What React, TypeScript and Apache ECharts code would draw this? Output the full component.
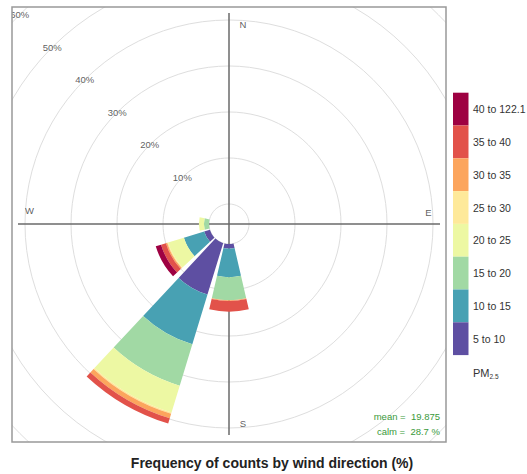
import React, { useEffect, useRef } from 'react';
import * as echarts from 'echarts';

// wind direction sectors (degrees, clockwise from north)
const directions = ['0', '30', '60', '90', '120', '150', '180', '210', '240', '270', '300', '330'];
// PM2.5 bins
const binLabels = ['5 to 10', '10 to 15', '15 to 20', '20 to 25', '25 to 30', '30 to 35', '35 to 40', '40 to 122.1'];
const binColors = ['#5E4FA2', '#48A1B3', '#A1D9A4', '#EDF8A3', '#FEE99A', '#FCA55D', '#E2524A', '#9E0142'];
// frequency (%) per direction for each bin
const pm5to10 = [0, 0, 0, 0, 0, 0, 1.0, 11.7, 1.3, 0, 0, 0];
const pm10to15 = [0, 0, 0, 0, 0, 0, 6.2, 11.3, 4.6, 0, 0, 0];
const pm15to20 = [0, 0, 0, 0, 0, 0, 5.0, 9.4, 0, 1.1, 0, 0];
const pm20to25 = [0, 0, 0, 0, 0, 0, 0, 6.1, 3.6, 1.1, 0, 0];
const pm25to30 = [0, 0, 0, 0, 0, 0, 0, 0.3, 0.2, 0, 0, 0];
const pm30to35 = [0, 0, 0, 0, 0, 0, 0.2, 1.0, 0.3, 0, 0, 0];
const pm35to40 = [0, 0, 0, 0, 0, 0, 2.3, 1.2, 1.1, 0, 0, 0];
const pm40plus = [0, 0, 0, 0, 0, 0, 0, 0, 1.2, 0, 0, 0];
const pctTicks = [10, 20, 30, 40, 50, 60];
const compassLabels = ['N', 'E', 'S', 'W'];
const compassAngles = [0, 90, 180, 270];
const meanText = 'mean =  19.875';
const calmText = 'calm =  28.7 %';
const titleText = 'Frequency of counts by wind direction (%)';

const seriesValues = [pm5to10, pm10to15, pm15to20, pm20to25, pm25to30, pm30to35, pm35to40, pm40plus];

const CX = 229;
const CY = 224;
const INNER = 20;
const OUTER = 296;
const FRAME = { x: 12, y: 7, w: 434, h: 435 };
const FONT = 'Liberation Sans, Arial, sans-serif';

export default function App() {
  const ref = useRef<HTMLDivElement>(null);

  useEffect(() => {
    if (!ref.current) return;
    const chart = echarts.init(ref.current, undefined, { renderer: 'svg' });

    const barSeries = seriesValues.map((vals, i) => ({
      type: 'bar',
      name: binLabels[i],
      coordinateSystem: 'polar',
      polarIndex: 0,
      stack: 'rose',
      data: vals,
      barCategoryGap: '13%',
      itemStyle: { color: binColors[i] },
      z: 3,
    }));

    const compassOffsets: [number, number][] = [[14, 0], [0, -12], [14, 0], [0, -14]];

    const legendX = 453;
    const legendTop = 92.7;
    const boxH = 32.8;
    const legendEls: any[] = [];
    for (let k = 0; k < binLabels.length; k++) {
      const idx = binLabels.length - 1 - k;
      const y = legendTop + k * boxH;
      legendEls.push({
        type: 'rect',
        z: 110,
        shape: { x: legendX, y, width: 15.5, height: boxH },
        style: { fill: binColors[idx] },
      });
      legendEls.push({
        type: 'text',
        z: 110,
        x: legendX + 20,
        y: y + boxH / 2,
        style: {
          text: binLabels[idx],
          fill: '#333',
          font: `10.5px ${FONT}`,
          textVerticalAlign: 'middle',
          verticalAlign: 'middle',
        },
      });
    }
    legendEls.push({
      type: 'text',
      z: 110,
      x: legendX + 20,
      y: 373,
      style: {
        text: '{a|PM}{b|2.5}',
        rich: {
          a: { fontSize: 11, fontFamily: FONT, fill: '#333', color: '#333' },
          b: { fontSize: 6.5, fontFamily: FONT, fill: '#333', color: '#333', padding: [6, 0, 0, 0] },
        },
        verticalAlign: 'middle',
      },
    });

    const option: any = {
      animation: false,
      backgroundColor: '#ffffff',
      polar: [
        { center: [CX, CY], radius: [INNER, OUTER] },
        { center: [CX, CY], radius: [INNER, OUTER] },
      ],
      angleAxis: [
        {
          polarIndex: 0,
          type: 'category',
          data: directions,
          startAngle: 105,
          clockwise: true,
          axisLine: { show: false },
          axisTick: { show: false },
          axisLabel: { show: false },
          splitLine: { show: false },
        },
        {
          polarIndex: 1,
          type: 'value',
          min: 0,
          max: 360,
          startAngle: 90,
          clockwise: true,
          show: false,
        },
      ],
      radiusAxis: [
        {
          polarIndex: 0,
          type: 'value',
          min: 0,
          max: 60,
          interval: 10,
          axisLine: { show: false },
          axisTick: { show: false },
          axisLabel: { show: false },
          splitLine: { show: true, lineStyle: { color: '#dedede', width: 1 } },
          z: 0,
        },
        {
          polarIndex: 1,
          type: 'value',
          min: 0,
          max: 60,
          show: false,
        },
      ],
      series: [
        ...barSeries,
        {
          type: 'scatter',
          coordinateSystem: 'polar',
          polarIndex: 1,
          symbolSize: 1,
          itemStyle: { color: 'rgba(0,0,0,0)' },
          z: 4,
          data: pctTicks.map((v) => [v, 315]),
          label: {
            show: true,
            position: 'inside',
            formatter: (p: any) => `${p.value[0]}%`,
            color: '#333',
            fontSize: 9.5,
            fontFamily: FONT,
          },
        },
        {
          type: 'scatter',
          coordinateSystem: 'polar',
          polarIndex: 1,
          symbolSize: 1,
          itemStyle: { color: 'rgba(0,0,0,0)' },
          z: 4,
          data: compassLabels.map((name, i) => ({
            value: [39, compassAngles[i]],
            name,
            label: { offset: compassOffsets[i] },
          })),
          label: {
            show: true,
            position: 'inside',
            formatter: (p: any) => p.name,
            color: '#333',
            fontSize: 9.5,
            fontFamily: FONT,
          },
        },
      ],
      graphic: [
        // cross-hair lines
        { type: 'line', z: 1, shape: { x1: CX, y1: CY - 211, x2: CX, y2: CY + 211 }, style: { stroke: '#6a6a6a', lineWidth: 1.5 } },
        { type: 'line', z: 1, shape: { x1: CX - 211, y1: CY, x2: CX + 211, y2: CY }, style: { stroke: '#6a6a6a', lineWidth: 1.5 } },
        // masks outside the plot frame
        { type: 'rect', z: 100, shape: { x: 0, y: 0, width: 527, height: FRAME.y }, style: { fill: '#fff' } },
        { type: 'rect', z: 100, shape: { x: 0, y: FRAME.y + FRAME.h, width: 527, height: 474 - FRAME.y - FRAME.h }, style: { fill: '#fff' } },
        { type: 'rect', z: 100, shape: { x: 0, y: 0, width: FRAME.x, height: 474 }, style: { fill: '#fff' } },
        { type: 'rect', z: 100, shape: { x: FRAME.x + FRAME.w, y: 0, width: 527 - FRAME.x - FRAME.w, height: 474 }, style: { fill: '#fff' } },
        // frame
        { type: 'rect', z: 105, shape: { x: FRAME.x, y: FRAME.y, width: FRAME.w, height: FRAME.h }, style: { fill: 'none', stroke: '#999', lineWidth: 1.5 } },
        // mean / calm
        {
          type: 'text', z: 105, x: 440, y: 416,
          style: { text: meanText, fill: '#3a9a3a', font: `9.5px ${FONT}`, textAlign: 'right', align: 'right', verticalAlign: 'middle', textVerticalAlign: 'middle' },
        },
        {
          type: 'text', z: 105, x: 440, y: 431,
          style: { text: calmText, fill: '#3a9a3a', font: `9.5px ${FONT}`, textAlign: 'right', align: 'right', verticalAlign: 'middle', textVerticalAlign: 'middle' },
        },
        // title
        {
          type: 'text', z: 110, x: 272, y: 463,
          style: { text: titleText, fill: '#222', font: `bold 14px ${FONT}`, textAlign: 'center', align: 'center', verticalAlign: 'middle', textVerticalAlign: 'middle' },
        },
        ...legendEls,
      ],
    };

    chart.setOption(option);
    return () => chart.dispose();
  }, []);

  return (
    <div
      ref={ref}
      style={{ position: 'absolute', left: 0, top: 0, width: 527, height: 474, background: '#fff' }}
    />
  );
}
